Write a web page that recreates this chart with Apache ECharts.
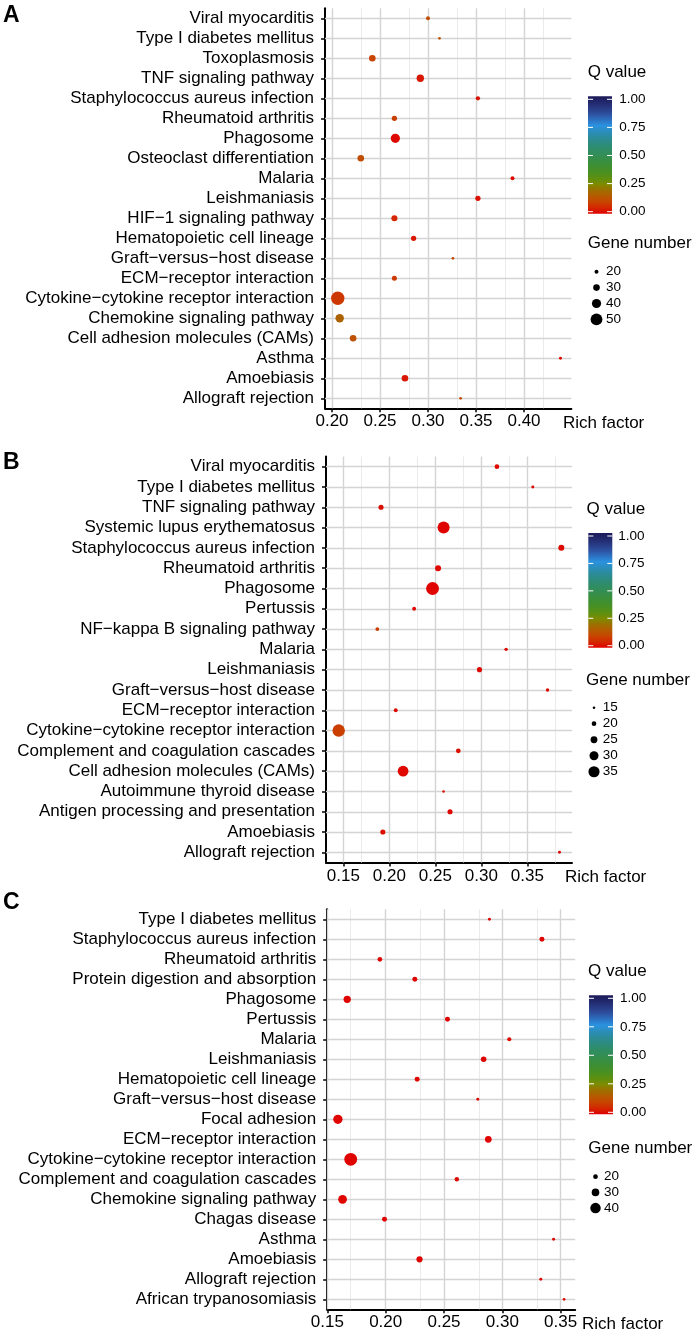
<!DOCTYPE html>
<html><head><meta charset="utf-8">
<script src="https://cdn.jsdelivr.net/npm/echarts@6/dist/echarts.min.js"></script>
<style>html,body{margin:0;padding:0;background:#fff}#c{width:697px;height:1333px}</style>
</head><body><div id="c"></div>
<script>
// ---------- Panel A ----------
const catA = ['Viral myocarditis','Type I diabetes mellitus','Toxoplasmosis','TNF signaling pathway','Staphylococcus aureus infection','Rheumatoid arthritis','Phagosome','Osteoclast differentiation','Malaria','Leishmaniasis','HIF−1 signaling pathway','Hematopoietic cell lineage','Graft−versus−host disease','ECM−receptor interaction','Cytokine−cytokine receptor interaction','Chemokine signaling pathway','Cell adhesion molecules (CAMs)','Asthma','Amoebiasis','Allograft rejection'];
const richA = [0.300,0.312,0.242,0.292,0.352,0.265,0.266,0.230,0.388,0.352,0.265,0.285,0.326,0.265,0.206,0.208,0.222,0.438,0.276,0.334];
const geneA = [20,15,30,33,21,25,40,30,20,25,28,25,15,24,56,37,30,16,30,15];
const qA    = [0.12,0.13,0.10,0.03,0.02,0.09,0.01,0.12,0.01,0.02,0.05,0.03,0.11,0.08,0.08,0.17,0.13,0.01,0.03,0.11];
const ticksA = [0.20,0.25,0.30,0.35,0.40];
const minorA = [0.225,0.275,0.325,0.375,0.425];
const sizeBreaksA = [20,30,40,50];

// ---------- Panel B ----------
const catB = ['Viral myocarditis','Type I diabetes mellitus','TNF signaling pathway','Systemic lupus erythematosus','Staphylococcus aureus infection','Rheumatoid arthritis','Phagosome','Pertussis','NF−kappa B signaling pathway','Malaria','Leishmaniasis','Graft−versus−host disease','ECM−receptor interaction','Cytokine−cytokine receptor interaction','Complement and coagulation cascades','Cell adhesion molecules (CAMs)','Autoimmune thyroid disease','Antigen processing and presentation','Amoebiasis','Allograft rejection'];
const richB = [0.317,0.356,0.191,0.259,0.387,0.253,0.247,0.227,0.187,0.327,0.298,0.372,0.207,0.145,0.275,0.215,0.259,0.266,0.193,0.385];
const geneB = [20,16,21,37,23,23,39,18,18,17,21,17,18,38,20,34,15,21,21,16];
const qB    = [0.01,0.01,0.02,0.005,0.01,0.01,0.005,0.01,0.09,0.01,0.01,0.01,0.01,0.09,0.02,0.01,0.02,0.01,0.02,0.01];
const ticksB = [0.15,0.20,0.25,0.30,0.35];
const minorB = [0.175,0.225,0.275,0.325,0.375];
const sizeBreaksB = [15,20,25,30,35];

// ---------- Panel C ----------
const catC = ['Type I diabetes mellitus','Staphylococcus aureus infection','Rheumatoid arthritis','Protein digestion and absorption','Phagosome','Pertussis','Malaria','Leishmaniasis','Hematopoietic cell lineage','Graft−versus−host disease','Focal adhesion','ECM−receptor interaction','Cytokine−cytokine receptor interaction','Complement and coagulation cascades','Chemokine signaling pathway','Chagas disease','Asthma','Amoebiasis','Allograft rejection','African trypanosomiasis'];
const richC = [0.289,0.334,0.195,0.225,0.167,0.253,0.306,0.284,0.227,0.279,0.159,0.288,0.170,0.261,0.163,0.199,0.344,0.229,0.333,0.353];
const geneC = [14,21,20,21,29,21,18,23,21,14,36,27,48,19,34,21,14,25,14,13];
const qC    = [0.01,0.005,0.01,0.005,0.005,0.005,0.01,0.005,0.005,0.01,0.005,0.005,0.005,0.01,0.005,0.005,0.01,0.005,0.01,0.01];
const ticksC = [0.15,0.20,0.25,0.30,0.35];
const minorC = [0.175,0.225,0.275,0.325];
const sizeBreaksC = [20,30,40];

const qBreaks = [0,0.25,0.5,0.75,1];
const PAL = ['#e00000','#d42600','#c84400','#b65a00','#9e6e00','#7f8a00','#5e9010','#4a9020','#3f8f30','#388f42','#338e55','#2f8d68','#2c8c80','#2b8c9c','#2b8ebc','#2a92e0','#2c70c0','#2d509e','#283a84','#22286c','#1c1a58'];
const FONT = "'Liberation Sans', Arial, Helvetica, sans-serif";

const panels = [
  {cats:catA, rich:richA, gene:geneA, q:qA, ticks:ticksA, minor:minorA, breaks:sizeBreaksA,
   grid:{left:325, top:8.3, width:246.4, height:400}, xmin:0.19271, xmax:0.44938,
   size:n=>4.0+(n-20)*0.26, letter:'A', letterY:16, rf:[563,423],
   leg:{qx:587.7, qy:72.7, barX:588, y1:99.3, y0:211.7, labX:619.3, gx:587.7, gy:243, dotX:596.5, gLabX:606, gY0:271.7, gStep:15.9}},
  {cats:catB, rich:richB, gene:geneB, q:qB, ticks:ticksB, minor:minorB, breaks:sizeBreaksB,
   grid:{left:326, top:456.5, width:246, height:406}, xmin:0.13120, xmax:0.39859,
   size:n=>4.7+(n-20)*0.43, letter:'B', letterY:463, rf:[565,877],
   leg:{qx:586.5, qy:509.4, barX:588.3, y1:536, y0:645.7, labX:618.3, gx:586, gy:680.7, dotX:594, gLabX:602.7, gY0:707.7, gStep:16}},
  {cats:catC, rich:richC, gene:geneC, q:qC, ticks:ticksC, minor:minorC, breaks:sizeBreaksC,
   grid:{left:327.2, top:909.3, width:248, height:400}, xmin:0.14983, xmax:0.36252,
   size:n=>4.7+(n-20)*0.29, letter:'C', letterY:903, rf:[582,1324],
   leg:{qx:588, qy:971.7, barX:589, y1:998.3, y0:1112.3, labX:620, gx:588.3, gy:1148, dotX:595.5, gLabX:604, gY0:1176.7, gStep:15.7}}
];

const grids=[], xAxes=[], yAxes=[], series=[], graphics=[];
const majorLS = {color:'#d4d4d4', width:1.4, type:'solid'};
const minorLS = {color:'#ebebeb', width:1.1, type:'solid'};

panels.forEach((p, k) => {
  grids.push(Object.assign({containLabel:false}, p.grid));
  xAxes.push({
    type:'value', gridIndex:k, min:p.xmin, max:p.xmax,
    axisLine:{show:true, lineStyle:{color:'#000', width:2}},
    axisTick:{show:true, length:4, lineStyle:{color:'#000', width:1.5}, customValues:p.ticks},
    axisLabel:{color:'#000', fontSize:17, fontFamily:FONT, margin:5, customValues:p.ticks,
      formatter:v => {
        const ok = p.ticks.some(t => Math.abs(t - v) < 1e-6);
        return ok ? v.toFixed(2) : '';
      }},
    splitLine:{show:false}
  });
  yAxes.push({
    type:'category', gridIndex:k, data:p.cats, inverse:true, boundaryGap:true,
    axisLine:{show:true, lineStyle:{color:'#000', width:2}},
    axisTick:{show:true, alignWithLabel:true, length:4, lineStyle:{color:'#000', width:1.5}},
    axisLabel:{color:'#000', fontSize:17, fontFamily:FONT, margin:11, interval:0},
    splitLine:{show:false}
  });
  const lines = [];
  p.minor.forEach(v => lines.push({xAxis:v, lineStyle:minorLS}));
  p.ticks.forEach(v => lines.push({xAxis:v, lineStyle:majorLS}));
  p.cats.forEach((c,i) => lines.push({yAxis:i, lineStyle:majorLS}));
  series.push({
    type:'scatter', xAxisIndex:k, yAxisIndex:k, z:3,
    data:p.rich.map((x,i) => [x, p.cats[i], p.q[i], p.gene[i]]),
    symbol:'circle',
    symbolSize:(val) => p.size(val[3]),
    itemStyle:{opacity:1},
    emphasis:{disabled:true},
    markLine:{silent:true, z:1, symbol:['none','none'], label:{show:false}, animation:false, data:lines}
  });

  graphics.push({type:'text', x:3, y:p.letterY, style:{text:p.letter, fill:'#000', font:`bold 23px ${FONT}`, textVerticalAlign:'middle'}});
  graphics.push({type:'text', x:p.rf[0], y:p.rf[1], style:{text:'Rich factor', fill:'#000', font:`17px ${FONT}`, textVerticalAlign:'middle'}});

  const L = p.leg;
  graphics.push({type:'text', x:L.qx, y:L.qy, style:{text:'Q value', fill:'#000', font:`17px ${FONT}`, textVerticalAlign:'middle'}});
  const span = L.y0 - L.y1;
  const stops = PAL.map((c,i) => ({offset:i/(PAL.length-1), color:PAL[PAL.length-1-i]}));
  graphics.push({type:'rect', shape:{x:L.barX, y:L.y1-3, width:24, height:span+5},
    style:{fill:{type:'linear', x:0, y:0, x2:0, y2:1, colorStops:stops}}});
  qBreaks.forEach(b => {
    const yy = L.y0 - b*span;
    graphics.push({type:'line', shape:{x1:L.barX, y1:yy, x2:L.barX+5, y2:yy}, style:{stroke:'#fff', lineWidth:1}});
    graphics.push({type:'line', shape:{x1:L.barX+19, y1:yy, x2:L.barX+24, y2:yy}, style:{stroke:'#fff', lineWidth:1}});
    graphics.push({type:'text', x:L.labX, y:yy, style:{text:b.toFixed(2), fill:'#000', font:`13.5px ${FONT}`, textVerticalAlign:'middle'}});
  });
  graphics.push({type:'text', x:L.gx, y:L.gy, style:{text:'Gene number', fill:'#000', font:`17px ${FONT}`, textVerticalAlign:'middle'}});
  p.breaks.forEach((b,i) => {
    const yy = L.gY0 + i*L.gStep;
    graphics.push({type:'circle', shape:{cx:L.dotX, cy:yy, r:p.size(b)/2}, style:{fill:'#000'}});
    graphics.push({type:'text', x:L.gLabX, y:yy, style:{text:String(b), fill:'#000', font:`13.5px ${FONT}`, textVerticalAlign:'middle'}});
  });
});

const chart = echarts.init(document.getElementById('c'), null, {renderer:'canvas'});
chart.setOption({
  animation:false,
  backgroundColor:'#fff',
  grid:grids, xAxis:xAxes, yAxis:yAxes,
  visualMap:[{type:'continuous', show:false, min:0, max:1, dimension:2, seriesIndex:[0,1,2], inRange:{color:PAL}}],
  series:series,
  graphic:graphics
});
</script></body></html>
